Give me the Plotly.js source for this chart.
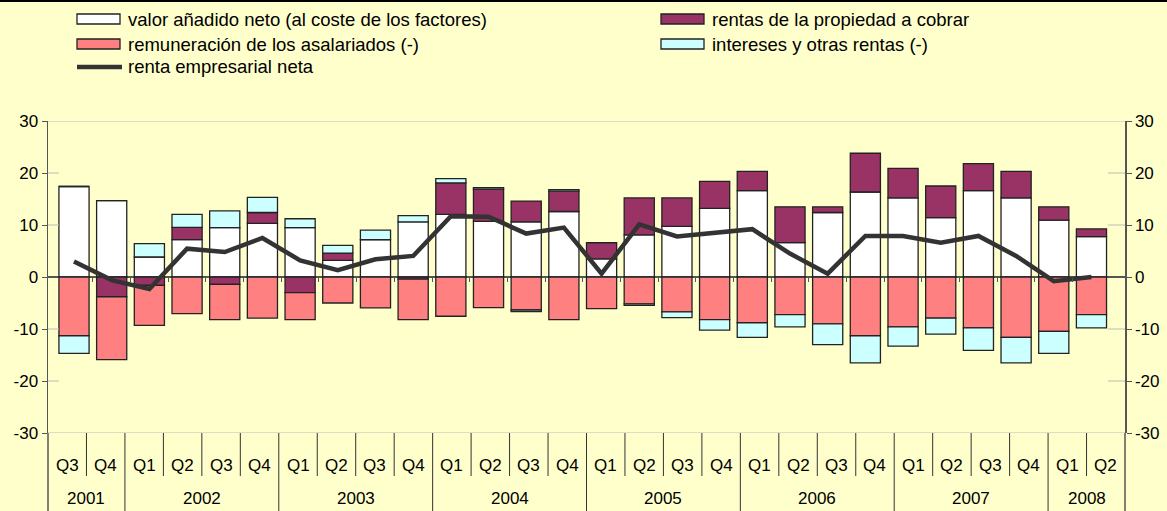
<!DOCTYPE html>
<html><head><meta charset="utf-8">
<script src="https://cdn.plot.ly/plotly-3.0.1.min.js"></script>
<style>html,body{margin:0;padding:0;background:#FFFFCC;}#chart{width:1167px;height:511px;}</style>
</head><body><div id="chart"></div>
<script>
// ---- data ----
const quarters = ['Q3','Q4','Q1','Q2','Q3','Q4','Q1','Q2','Q3','Q4','Q1','Q2','Q3','Q4','Q1','Q2','Q3','Q4','Q1','Q2','Q3','Q4','Q1','Q2','Q3','Q4','Q1','Q2'];
const yearLabels = ['2001','2002','2003','2004','2005','2006','2007','2008'];
const quartersPerYear = [2,4,4,4,4,4,4,2];
const seriesNames = ['valor añadido neto (al coste de los factores)','rentas de la propiedad a cobrar','remuneración de los asalariados (-)','intereses y otras rentas (-)','renta empresarial neta'];
const valorAnadido = [17.4,14.7,3.85,7.2,9.5,10.3,9.5,3.2,7.2,10.6,12.05,10.7,10.6,12.6,3.5,8.1,9.75,13.2,16.6,6.6,12.4,16.35,15.2,11.4,16.6,15.2,10.95,7.75];
const rentasPropiedad = [0,-3.8,-1.6,2.35,-1.4,2.1,-3.0,1.4,0,-0.4,6.05,6.2,4.0,3.9,3.1,7.1,5.45,5.2,3.7,6.9,1.1,7.45,5.7,6.1,5.2,5.1,2.55,1.5];
const remuneracion = [-11.3,-12.1,-7.7,-7.05,-6.8,-7.9,-5.2,-5.0,-5.95,-7.8,-7.55,-5.9,-6.35,-8.2,-6.1,-5.15,-6.7,-8.2,-8.8,-7.25,-9.0,-11.3,-9.6,-7.9,-9.8,-11.6,-10.45,-7.25];
const intereses = [-3.4,0,2.55,2.5,3.2,2.9,1.7,1.5,1.8,1.2,0.8,0.3,-0.3,0.3,0,-0.3,-1.1,-2.0,-2.8,-2.35,-4.0,-5.2,-3.7,-3.1,-4.3,-4.9,-4.25,-2.55];
const rentaEmpresarial = [3.0,-0.6,-2.3,5.45,4.8,7.5,3.2,1.3,3.4,4.05,11.7,11.6,8.35,9.5,0.65,10.1,7.8,8.5,9.2,4.5,0.65,7.9,7.9,6.6,7.9,4.05,-0.8,0.0];
const yTicks = [-30,-20,-10,0,10,20,30];
const yTickText = ['-30','-20','-10','0','10','20','30'];

// ---- styling ----
const FONT = 'Liberation Sans, Arial, sans-serif';
const BG = '#FFFFCC';
const colors = ['#FFFFFF','#993366','#FF8080','#CCFFFF','#333333'];
const W=1167,H=511,L=48,R=42,T=121,B=78;
const plotW=W-L-R, plotH=H-T-B;
const px = p => (p-L)/plotW;
const py = p => (H-B-p)/plotH;

const xIdx = quarters.map((_,i)=>i);
const barVals = [valorAnadido, rentasPropiedad, remuneracion, intereses];
const traces = barVals.map((v,k)=>({
  type:'bar', x:xIdx, y:v, name:seriesNames[k], width:0.8,
  marker:{color:colors[k], line:{color:'#222222', width:1.3}},
  hoverinfo:'y', showlegend:false
}));
traces.push({type:'scatter', mode:'lines', x:xIdx, y:rentaEmpresarial, name:seriesNames[4], yaxis:'y2',
  line:{color:colors[4], width:4.5}, showlegend:false});

const shapes = [];
const annotations = [];
// top border line
shapes.push({type:'line', xref:'paper', yref:'paper', x0:px(0), x1:px(W), y0:py(1), y1:py(1), line:{color:'#000', width:2}});
// gray lines at +-30
[30,-30].forEach(v=>shapes.push({type:'line', xref:'paper', yref:'y', x0:0, x1:1, y0:v, y1:v, line:{color:'#BBBBBB', width:1}}));
// inner stubs at ticks
yTicks.filter(v=>Math.abs(v)!==30 && v!==0).forEach(v=>{
  shapes.push({type:'line', xref:'paper', yref:'y', x0:0, x1:px(L+11), y0:v, y1:v, line:{color:'#BBBBBB', width:1}});
  shapes.push({type:'line', xref:'paper', yref:'y', x0:px(W-R-17), x1:1, y0:v, y1:v, line:{color:'#BBBBBB', width:1}});
});
// axis lines extended into table
[0,1].forEach(x=>shapes.push({type:'line', xref:'paper', yref:'paper', x0:x, x1:x, y0:0, y1:py(H), line:{color:'#555', width:1.5}}));
// category table
const n = quarters.length;
const yearStarts = [];
let acc = 0;
quartersPerYear.forEach(c=>{yearStarts.push(acc); acc+=c;});
for(let k=1;k<n;k++){
  const isYear = yearStarts.includes(k);
  shapes.push({type:'line', xref:'paper', yref:'paper', x0:k/n, x1:k/n, y0:0, y1:isYear?py(H):py(476), line:{color:'#333', width:1}});
}
quarters.forEach((q,k)=>annotations.push({xref:'paper', yref:'paper', x:(k+0.5)/n, y:py(465), text:q, showarrow:false, xanchor:'center', yanchor:'middle', font:{family:FONT, size:17, color:'#000'}}));
yearLabels.forEach((yl,j)=>annotations.push({xref:'paper', yref:'paper', x:(yearStarts[j]+quartersPerYear[j]/2)/n, y:py(498), text:yl, showarrow:false, xanchor:'center', yanchor:'middle', font:{family:FONT, size:17, color:'#000'}}));

// manual legend
const legendItems = [
  {k:0, col:0, row:0}, {k:1, col:1, row:0}, {k:2, col:0, row:1}, {k:3, col:1, row:1}, {k:4, col:0, row:2}
];
const colX = [77, 661];
const rowY = [19, 44, 67];
legendItems.forEach(it=>{
  const x0 = colX[it.col], yc = rowY[it.row];
  if(it.k<4){
    shapes.push({type:'rect', xref:'paper', yref:'paper', x0:px(x0), x1:px(x0+43), y0:py(yc-5), y1:py(yc+5), fillcolor:colors[it.k], line:{color:'#222', width:1.3}});
  } else {
    shapes.push({type:'line', xref:'paper', yref:'paper', x0:px(x0), x1:px(x0+45), y0:py(yc), y1:py(yc), line:{color:colors[4], width:4.5}});
  }
  annotations.push({xref:'paper', yref:'paper', x:px(x0+49), y:py(yc), text:seriesNames[it.k], showarrow:false, xanchor:'left', yanchor:'middle', font:{family:FONT, size:18.5, color:'#000'}});
});

const yaxisCommon = {range:[-30,30], tickvals:yTicks, ticktext:yTickText, ticks:'outside', ticklen:5, tickwidth:1, tickcolor:'#555',
  showline:true, linecolor:'#555', linewidth:1.5, showgrid:false, tickfont:{family:FONT, size:17, color:'#000'}, fixedrange:true};

const layout = {
  width:W, height:H, margin:{l:L, r:R, t:T, b:B, pad:0},
  paper_bgcolor:BG, plot_bgcolor:BG,
  barmode:'relative', bargap:0.2,
  showlegend:false,
  xaxis:{range:[-0.69, 27.89], anchor:'free', position:0.5, side:'bottom', tickvals:xIdx.slice(0,-1).map(i=>i+0.5),
    ticks:'outside', ticklen:4, tickcolor:'#555', showticklabels:false, showgrid:false, zeroline:false, showline:false, fixedrange:true},
  yaxis:Object.assign({}, yaxisCommon, {zeroline:true, zerolinecolor:'#555', zerolinewidth:1.5}),
  yaxis2:Object.assign({}, yaxisCommon, {overlaying:'y', side:'right', zeroline:false}),
  shapes, annotations,
  font:{family:FONT, size:17, color:'#000'}
};
Plotly.newPlot('chart', traces, layout, {displayModeBar:false, staticPlot:true});
</script></body></html>
